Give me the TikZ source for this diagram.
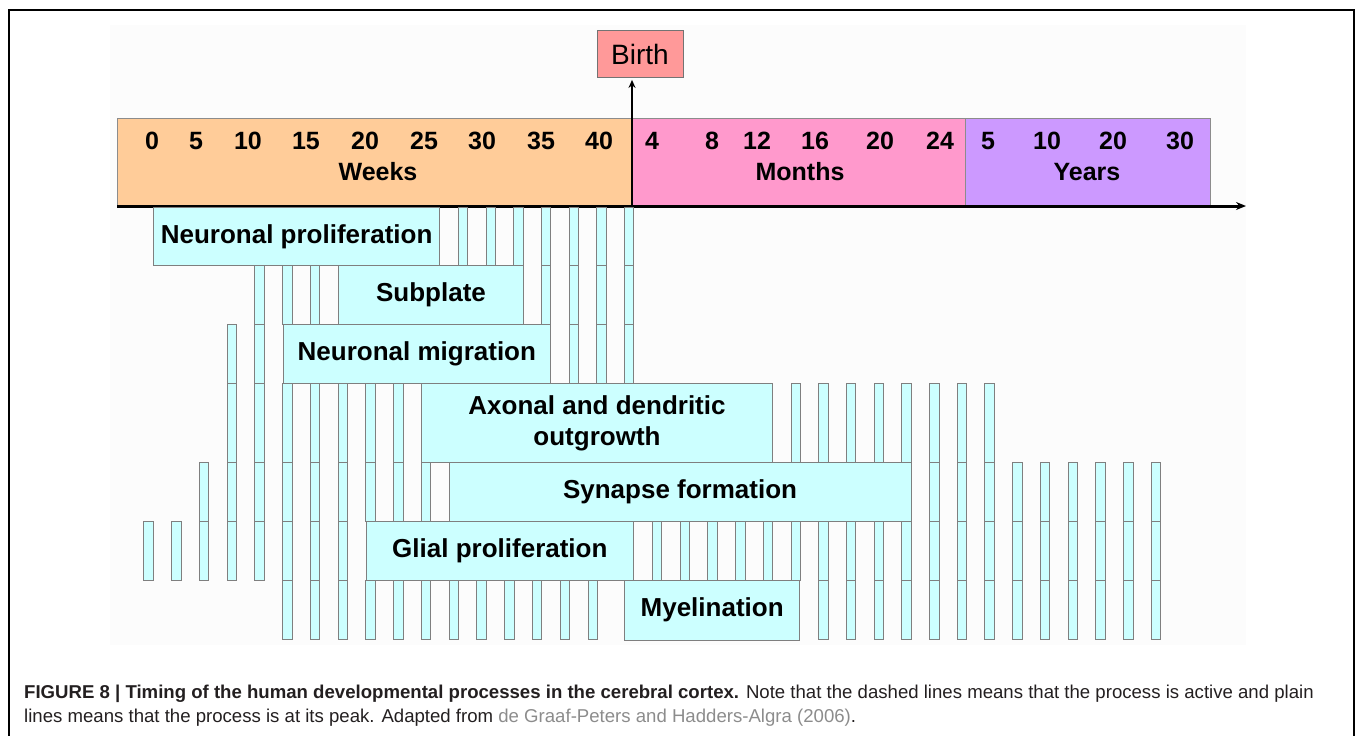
\documentclass[tikz,border=0pt]{standalone}
\usepackage{fontspec}
\setmainfont{Liberation Sans}
\usetikzlibrary{arrows.meta, positioning}

\definecolor{weekfill}{HTML}{FFCC99}
\definecolor{monthfill}{HTML}{FF99CC}
\definecolor{yearfill}{HTML}{CC99FF}
\definecolor{birthfill}{HTML}{FF9999}
\definecolor{cellfill}{HTML}{CCFFFF}
\definecolor{cellline}{HTML}{7F7F7F}
\definecolor{citegray}{HTML}{8C8C8C}
\definecolor{captext}{HTML}{231F20}

% thin bars on the three time grids: {indices}{top}{height}
\newcommand{\prenatal}[3]{\foreach \k in {#1} \draw[cellbox] ({143.7+27.76*\k},#2) rectangle ++(9.5,#3);}
\newcommand{\latefetal}[3]{\foreach \k in {#1} \draw[cellbox] ({458.3+27.67*\k},#2) rectangle ++(9.5,#3);}
\newcommand{\postnatal}[3]{\foreach \k in {#1} \draw[cellbox] ({652.3+27.71*\k},#2) rectangle ++(9.5,#3);}

\begin{document}
\begin{tikzpicture}[x=1pt, y=-1pt,
    cellbox/.style={draw=cellline, fill=cellfill, line width=0.7pt},
    procbox/.style={draw=cellline, fill=cellfill, line width=0.7pt, anchor=north west,
      inner sep=0pt, align=center, font=\fontsize{26}{31}\selectfont\bfseries},
    band/.style={draw=black!45, line width=0.7pt, anchor=north west, inner sep=0pt,
      minimum height=88pt},
    tick/.style={font=\fontsize{25}{30}\selectfont\bfseries},
    caption/.style={anchor=base west, inner sep=0pt, text=captext,
      font=\fontsize{18.6}{24}\selectfont}]
    \useasboundingbox (0,0) rectangle (1355,736);

    % Frame and figure background
    \fill[black!1.2] (110,25) rectangle (1246,645);
    \draw[line width=2.3pt] (9,737) -- (9,10) -- (1354,10) -- (1354,737);

    % Time bands
    \node[band, fill=weekfill, minimum width=515pt] (weeks) at (117,118) {};
    \node[band, fill=monthfill, minimum width=333pt] (months) at (632,118) {};
    \node[band, fill=yearfill, minimum width=245pt] (years) at (965,118) {};
    \foreach \lab/\x in {0/152, 5/196, 10/248, 15/306, 20/365, 25/424, 30/482, 35/541, 40/599}
      \node[tick] (wk\lab) at (\x,141) {\lab};
    \foreach \lab/\x in {4/652, 8/712, 12/757, 16/815, 20/880, 24/940}
      \node[tick] (mo\lab) at (\x,141) {\lab};
    \foreach \lab/\x in {5/988, 10/1047, 20/1113, 30/1180}
      \node[tick] (yr\lab) at (\x,141) {\lab};
    \node[tick] (weekslab) at (378,172) {Weeks};
    \node[tick] (monthslab) at (800,172) {Months};
    \node[tick] (yearslab) at (1087,172) {Years};

    % Draw axis and birth marker
    \coordinate (axisstart) at (117,206);
    \coordinate (axisend) at (1246,206);
    \coordinate (birthfoot) at (632,207.5);
    \draw[-{Stealth[length=10pt, width=8pt]}, line width=3pt] (axisstart) -- (axisend);
    \node[draw=black!55, fill=birthfill, line width=0.8pt, minimum width=86pt, minimum height=47pt,
      inner sep=0pt, font=\fontsize{28}{32}\selectfont] (birth) at (640,54) {Birth};
    \draw[-{Stealth[length=8pt, width=7pt]}, line width=2.8pt, shorten >=2pt] (birthfoot) -- (birth.south -| birthfoot);

    % Thin bars (active periods)
    \latefetal{0,...,6}{207}{58}
    \prenatal{4,5,6}{265}{59}
    \latefetal{3,...,6}{265}{59}
    \prenatal{3,4}{324}{59}
    \latefetal{4,5,6}{324}{59}
    \prenatal{3,...,9}{383}{79}
    \postnatal{5,...,12}{383}{79}
    \prenatal{2,...,10}{462}{59}
    \postnatal{10,...,18}{462}{59}
    \prenatal{0,...,7}{521}{59}
    \postnatal{0,...,18}{521}{59}
    \prenatal{5,...,16}{580}{59.5}
    \postnatal{6,...,18}{580}{59.5}

    % Process boxes (peak periods)
    \node[procbox, minimum width=286pt, minimum height=58pt] (prolif) at (153.3,207) {Neuronal proliferation};
    \node[procbox, minimum width=184.7pt, minimum height=59pt] (subplate) at (338.3,265) {Subplate};
    \node[procbox, minimum width=267.6pt, minimum height=59pt] (migration) at (282.7,324) {Neuronal migration};
    \node[procbox, minimum width=351.3pt, minimum height=79pt] (outgrowth) at (421,383) {Axonal and dendritic\\outgrowth};
    \node[procbox, minimum width=462pt, minimum height=59pt] (synapse) at (448.7,462) {Synapse formation};
    \node[procbox, minimum width=267.6pt, minimum height=59pt] (glial) at (365.7,521) {Glial proliferation};
    \node[procbox, minimum width=175pt, minimum height=59.5pt] (myelin) at (624.3,580) {Myelination};

    % Caption
    \node[caption] (capone) at (24,698) {\textbf{FIGURE 8 | Timing of the human developmental processes in the cerebral cortex.} Note that the dashed lines means that the process is active and plain};
    \node[caption] (captwo) at ([yshift=-24pt]capone.base west) {lines means that the process is at its peak. Adapted from \textcolor{citegray}{de Graaf-Peters and Hadders-Algra (2006)}.};
\end{tikzpicture}
\end{document}
